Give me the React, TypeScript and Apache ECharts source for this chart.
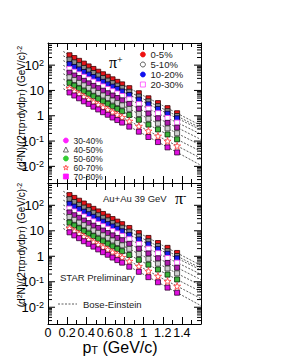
import React, { useEffect, useRef } from 'react';
import * as echarts from 'echarts';

// transverse momentum of the measured points (GeV/c)
const pT = [0.225, 0.275, 0.325, 0.375, 0.425, 0.475, 0.525, 0.575, 0.625, 0.675, 0.725, 0.775, 0.85, 0.95, 1.05, 1.15, 1.25, 1.35];
// pT of the points on the Bose-Einstein fit curves
const fitPT = [0.16, 0.3, 0.5, 0.8, 1.0, 1.2, 1.4, 1.6];
const centralities = ['0-5%', '5-10%', '10-20%', '20-30%', '30-40%', '40-50%', '50-60%', '60-70%', '70-80%'];
const xTickLabels = ['0', '0.2', '0.4', '0.6', '0.8', '1', '1.2', '1.4'];

// yields, in decades (log10 of the yield)
const pip_0_5 = [2.39, 2.28, 2.17, 2.06, 1.95, 1.85, 1.74, 1.64, 1.54, 1.44, 1.34, 1.24, 1.09, 0.89, 0.69, 0.50, 0.30, 0.10];
const pip_5_10 = [2.22, 2.11, 2.00, 1.89, 1.79, 1.69, 1.59, 1.49, 1.39, 1.29, 1.19, 1.10, 0.95, 0.76, 0.57, 0.38, 0.18, -0.01];
const pip_10_20 = [2.04, 1.93, 1.83, 1.73, 1.63, 1.53, 1.43, 1.34, 1.24, 1.15, 1.06, 0.96, 0.82, 0.64, 0.45, 0.27, 0.08, -0.10];
const pip_20_30 = [1.85, 1.74, 1.64, 1.54, 1.44, 1.35, 1.25, 1.16, 1.06, 0.97, 0.88, 0.78, 0.65, 0.46, 0.28, 0.10, -0.09, -0.27];
const pip_30_40 = [1.70, 1.59, 1.49, 1.38, 1.28, 1.18, 1.09, 0.99, 0.89, 0.80, 0.70, 0.61, 0.47, 0.28, 0.09, -0.10, -0.28, -0.47];
const pip_40_50 = [1.52, 1.41, 1.30, 1.20, 1.10, 0.99, 0.90, 0.80, 0.70, 0.60, 0.50, 0.41, 0.27, 0.07, -0.12, -0.31, -0.50, -0.69];
const pip_50_60 = [1.30, 1.19, 1.08, 0.97, 0.87, 0.77, 0.67, 0.57, 0.47, 0.37, 0.27, 0.18, 0.03, -0.16, -0.35, -0.54, -0.74, -0.93];
const pip_60_70 = [1.08, 0.97, 0.86, 0.75, 0.64, 0.54, 0.44, 0.34, 0.24, 0.14, 0.04, -0.06, -0.21, -0.41, -0.60, -0.80, -1.00, -1.19];
const pip_70_80 = [0.92, 0.80, 0.69, 0.57, 0.47, 0.36, 0.25, 0.14, 0.04, -0.07, -0.17, -0.27, -0.43, -0.63, -0.84, -1.04, -1.25, -1.45];

const pim_0_5 = [2.40, 2.29, 2.18, 2.07, 1.96, 1.86, 1.76, 1.66, 1.56, 1.46, 1.36, 1.26, 1.11, 0.91, 0.72, 0.52, 0.33, 0.13];
const pim_5_10 = [2.24, 2.13, 2.02, 1.91, 1.81, 1.71, 1.61, 1.51, 1.41, 1.31, 1.21, 1.12, 0.97, 0.78, 0.59, 0.40, 0.20, 0.01];
const pim_10_20 = [2.06, 1.95, 1.85, 1.75, 1.65, 1.55, 1.45, 1.36, 1.26, 1.17, 1.08, 0.98, 0.84, 0.66, 0.47, 0.29, 0.10, -0.08];
const pim_20_30 = [1.87, 1.76, 1.66, 1.56, 1.46, 1.37, 1.27, 1.18, 1.08, 0.99, 0.90, 0.80, 0.67, 0.48, 0.30, 0.12, -0.07, -0.25];
const pim_30_40 = [1.72, 1.61, 1.51, 1.40, 1.30, 1.20, 1.11, 1.01, 0.91, 0.82, 0.72, 0.63, 0.49, 0.30, 0.11, -0.08, -0.26, -0.45];
const pim_40_50 = [1.54, 1.43, 1.32, 1.22, 1.12, 1.01, 0.92, 0.82, 0.72, 0.62, 0.52, 0.43, 0.29, 0.09, -0.10, -0.29, -0.48, -0.67];
const pim_50_60 = [1.32, 1.21, 1.10, 0.99, 0.89, 0.79, 0.69, 0.59, 0.49, 0.39, 0.29, 0.20, 0.05, -0.14, -0.33, -0.52, -0.72, -0.91];
const pim_60_70 = [1.10, 0.99, 0.88, 0.77, 0.66, 0.56, 0.46, 0.36, 0.26, 0.16, 0.06, -0.04, -0.19, -0.39, -0.58, -0.78, -0.98, -1.17];
const pim_70_80 = [0.94, 0.82, 0.71, 0.59, 0.49, 0.38, 0.27, 0.16, 0.06, -0.05, -0.15, -0.25, -0.41, -0.61, -0.82, -1.02, -1.23, -1.43];

// Bose-Einstein fit curves (log10 of the yield at fitPT)
const pipFit_0_5 = [2.54, 2.22, 1.79, 1.19, 0.79, 0.40, 0.00, -0.39];
const pipFit_5_10 = [2.37, 2.05, 1.64, 1.05, 0.66, 0.28, -0.11, -0.49];
const pipFit_10_20 = [2.18, 1.88, 1.48, 0.92, 0.55, 0.18, -0.19, -0.56];
const pipFit_20_30 = [1.99, 1.69, 1.30, 0.74, 0.37, 0.00, -0.36, -0.73];
const pipFit_30_40 = [1.84, 1.54, 1.13, 0.56, 0.19, -0.19, -0.56, -0.94];
const pipFit_40_50 = [1.66, 1.36, 0.94, 0.36, -0.02, -0.40, -0.79, -1.17];
const pipFit_50_60 = [1.45, 1.13, 0.72, 0.13, -0.26, -0.64, -1.03, -1.41];
const pipFit_60_70 = [1.23, 0.91, 0.49, -0.11, -0.50, -0.90, -1.29, -1.68];
const pipFit_70_80 = [1.07, 0.74, 0.30, -0.32, -0.73, -1.14, -1.55, -1.96];

const pimFit_0_5 = [2.55, 2.23, 1.81, 1.21, 0.82, 0.42, 0.03, -0.36];
const pimFit_5_10 = [2.39, 2.07, 1.66, 1.07, 0.68, 0.30, -0.09, -0.47];
const pimFit_10_20 = [2.20, 1.90, 1.50, 0.94, 0.57, 0.20, -0.17, -0.54];
const pimFit_20_30 = [2.01, 1.71, 1.32, 0.76, 0.39, 0.02, -0.34, -0.71];
const pimFit_30_40 = [1.86, 1.56, 1.15, 0.58, 0.21, -0.17, -0.54, -0.92];
const pimFit_40_50 = [1.68, 1.38, 0.96, 0.38, 0.00, -0.38, -0.77, -1.15];
const pimFit_50_60 = [1.47, 1.15, 0.74, 0.15, -0.24, -0.62, -1.01, -1.39];
const pimFit_60_70 = [1.25, 0.93, 0.51, -0.09, -0.48, -0.88, -1.27, -1.66];
const pimFit_70_80 = [1.09, 0.76, 0.32, -0.30, -0.71, -1.12, -1.53, -1.94];

const panels = [
  {
    data: [pip_0_5, pip_5_10, pip_10_20, pip_20_30, pip_30_40, pip_40_50, pip_50_60, pip_60_70, pip_70_80],
    fits: [pipFit_0_5, pipFit_5_10, pipFit_10_20, pipFit_20_30, pipFit_30_40, pipFit_40_50, pipFit_50_60, pipFit_60_70, pipFit_70_80],
  },
  {
    data: [pim_0_5, pim_5_10, pim_10_20, pim_20_30, pim_30_40, pim_40_50, pim_50_60, pim_60_70, pim_70_80],
    fits: [pimFit_0_5, pimFit_5_10, pimFit_10_20, pimFit_20_30, pimFit_30_40, pimFit_40_50, pimFit_50_60, pimFit_60_70, pimFit_70_80],
  },
];

const STAR = 'path://M0,-10L2.35,-3.24L9.51,-3.09L3.8,1.24L5.88,8.09L0,4L-5.88,8.09L-3.8,1.24L-9.51,-3.09L-2.35,-3.24Z';
const FONT = '"Liberation Sans", Arial, sans-serif';
const SERIF = '"Liberation Serif", "Times New Roman", serif';

// marker style of each centrality
const markerFill = ['#e8141a', '#8c8c8c', '#1a1aee', '#ffffff', '#b01cb0', '#cfcfcf', '#3cb43c', '#ffffff', '#e010e0'];
const markerStroke = ['#3a0000', '#111111', '#00002a', '#ff44ff', '#200020', '#333333', '#002000', '#ff3030', '#300030'];
const markerSymbol = ['rect', 'rect', 'rect', 'rect', 'rect', 'rect', 'rect', STAR, 'rect'];
const legendIcon = ['circle', 'circle', 'circle', 'rect', 'circle', 'triangle', 'circle', STAR, 'rect'];
const legendFill = ['#ee1111', '#ffffff', '#1111ee', '#ffffff', '#ff22ff', '#ffffff', '#33cc33', '#ffffff', '#ff11ff'];
const legendStroke = ['#ee1111', '#333333', '#1111ee', '#ff44ff', '#ff22ff', '#444444', '#33cc33', '#ff3030', '#ff11ff'];

const X_MAX = 1.6;
const Y_MIN = 0.0022;
const Y_MAX = 750;

export default function App() {
  const ref = useRef<HTMLDivElement>(null);
  useEffect(() => {
    const chart = echarts.init(ref.current!, null, { renderer: 'svg' });

    const yLabel = (v: number) => {
      const l = Math.log10(v);
      const e = Math.round(l);
      if (Math.abs(l - e) > 1e-6) return '';
      if (e === 0) return '{b|1}';
      if (e === 1) return '{b|10}';
      return `{b|10}{s|${e}}`;
    };
    const yRich = {
      b: { fontSize: 13, fontFamily: FONT, color: '#000', lineHeight: 13, padding: [3, 0, 3, 0] },
      s: { fontSize: 9, fontFamily: FONT, color: '#000', lineHeight: 9, verticalAlign: 'top' },
    };

    const grids = [
      { left: 48, top: 43, width: 153, height: 140 },
      { left: 48, top: 183, width: 153, height: 141 },
    ];

    const xAxes: any[] = [];
    const yAxes: any[] = [];
    grids.forEach((_, g) => {
      ['bottom', 'top'].forEach((pos) => {
        xAxes.push({
          type: 'value', gridIndex: g, position: pos, min: 0, max: X_MAX, interval: 0.2,
          axisLine: { show: true, onZero: false, lineStyle: { color: '#000', width: 1 } },
          axisTick: { show: true, inside: true, length: 7, lineStyle: { color: '#000' } },
          minorTick: { show: true, splitNumber: 2, length: 4, lineStyle: { color: '#000' } },
          splitLine: { show: false },
          axisLabel: {
            show: g === 1 && pos === 'bottom', margin: 2, fontSize: 12.5, lineHeight: 13, fontFamily: FONT, color: '#000',
            formatter: (v: number) => {
              const i = Math.round(v / 0.2);
              return Math.abs(v - i * 0.2) < 1e-6 && i < xTickLabels.length ? xTickLabels[i] : '';
            },
          },
        });
      });
      ['left', 'right'].forEach((pos) => {
        yAxes.push({
          type: 'log', logBase: 10, gridIndex: g, position: pos, min: Y_MIN, max: Y_MAX,
          axisLine: { show: true, onZero: false, lineStyle: { color: '#000', width: 1 } },
          axisTick: { show: false },
          splitLine: { show: false },
          axisLabel: {
            show: pos === 'left', margin: 4, formatter: yLabel, rich: yRich,
            showMinLabel: false, showMaxLabel: false,
          },
        });
      });
    });

    // log-axis tick marks (decades and 2..9 sub-divisions) on both vertical frame sides
    const tickVals: number[] = [];
    for (let k = -3; k <= 2; k++) {
      for (let m = 1; m <= 9; m++) {
        const v = m * Math.pow(10, k);
        if (v > Y_MIN && v < Y_MAX) tickVals.push(v);
      }
    }

    const series: any[] = [];
    panels.forEach((panel, g) => {
      panel.fits.forEach((fit, i) => {
        series.push({
          type: 'line', name: `fit ${g} ${centralities[i]}`, xAxisIndex: g * 2, yAxisIndex: g * 2,
          data: fitPT.map((x, j) => [x, Math.pow(10, fit[j])]),
          symbol: 'none', silent: true, z: 1,
          lineStyle: { color: '#333', width: 0.8, type: [2, 1.5] },
        });
      });
      panel.data.forEach((d, i) => {
        series.push({
          type: 'scatter', name: centralities[i], xAxisIndex: g * 2, yAxisIndex: g * 2,
          data: pT.map((x, j) => [x, Math.pow(10, d[j])]),
          symbol: markerSymbol[i], symbolSize: markerSymbol[i] === STAR ? 7 : 5, z: 3,
          itemStyle: { color: markerFill[i], borderColor: markerStroke[i], borderWidth: 0.8, opacity: 1 },
        });
      });
      series.push({
        type: 'custom', name: `ticks ${g}`, xAxisIndex: g * 2, yAxisIndex: g * 2, silent: true, z: 5,
        data: tickVals.map((v) => [0, v]),
        renderItem: (_p: any, api: any) => {
          const v = api.value(1);
          const l = Math.log10(v);
          const major = Math.abs(l - Math.round(l)) < 1e-6;
          const len = major ? 7 : 4;
          const a = api.coord([0, v]);
          const b = api.coord([X_MAX, v]);
          const st = { stroke: '#000', lineWidth: 1 };
          return {
            type: 'group',
            children: [
              { type: 'line', shape: { x1: a[0], y1: a[1], x2: a[0] + len, y2: a[1] }, style: st },
              { type: 'line', shape: { x1: b[0] - len, y1: b[1], x2: b[0], y2: b[1] }, style: st },
            ],
          };
        },
      });
    });

    const legendItem = (i: number) => ({
      name: centralities[i],
      icon: legendIcon[i],
      itemStyle: { color: legendFill[i], borderColor: legendStroke[i], borderWidth: 0.8 },
    });
    const legendText = { fontSize: 9.5, fontFamily: FONT, color: '#222' };

    const option: any = {
      animation: false,
      backgroundColor: '#fff',
      grid: grids,
      xAxis: xAxes,
      yAxis: yAxes,
      series,
      legend: [
        {
          left: 140, top: 49.5, orient: 'vertical', itemWidth: 5, itemHeight: 5, itemGap: 0,
          selectedMode: false, textStyle: { ...legendText, lineHeight: 8 }, padding: 0,
          data: [0, 1, 2, 3].map(legendItem),
        },
        {
          left: 63, top: 136, orient: 'vertical', itemWidth: 5, itemHeight: 5, itemGap: 0,
          selectedMode: false, textStyle: { ...legendText, fontSize: 8.5, lineHeight: 8 }, padding: 0,
          data: [4, 5, 6, 7, 8].map(legendItem),
        },
      ],
      graphic: [
        {
          type: 'text', x: 109, y: 62,
          style: {
            text: '{a|π}{s|+}', verticalAlign: 'middle',
            rich: {
              a: { fontSize: 16, fontFamily: SERIF, fill: '#000', lineHeight: 16, padding: [3, 0, 3, 0] },
              s: { fontSize: 10, fontFamily: SERIF, fill: '#000', lineHeight: 10, verticalAlign: 'top' },
            },
          },
        },
        {
          type: 'text', x: 175, y: 198,
          style: {
            text: '{a|π}{s|-}', verticalAlign: 'middle',
            rich: {
              a: { fontSize: 16, fontFamily: SERIF, fill: '#000', lineHeight: 16, padding: [3, 0, 3, 0] },
              s: { fontSize: 10, fontFamily: SERIF, fill: '#000', lineHeight: 10, verticalAlign: 'top' },
            },
          },
        },
        {
          type: 'text', x: 103, y: 198,
          style: { text: 'Au+Au 39 GeV', fontSize: 9.5, fontFamily: FONT, fill: '#222', verticalAlign: 'middle' },
        },
        {
          type: 'text', x: 60, y: 277,
          style: { text: 'STAR Preliminary', fontSize: 9.5, fontFamily: FONT, fill: '#222', verticalAlign: 'middle' },
        },
        {
          type: 'line', shape: { x1: 58, y1: 304, x2: 77, y2: 304 },
          style: { stroke: '#333', lineWidth: 0.8, lineDash: [2, 1.5] },
        },
        {
          type: 'text', x: 83, y: 304,
          style: { text: 'Bose-Einstein', fontSize: 9.5, fontFamily: FONT, fill: '#222', verticalAlign: 'middle' },
        },
        {
          type: 'text', x: 120, y: 339,
          style: {
            text: '{a|p}{t|T}{a| (GeV/c)}', align: 'center', verticalAlign: 'top',
            rich: {
              a: { fontSize: 16, fontFamily: FONT, fill: '#000', lineHeight: 16, verticalAlign: 'top' },
              t: { fontSize: 11, fontFamily: FONT, fill: '#000', lineHeight: 11, padding: [7, 0, 0, 0], verticalAlign: 'bottom' },
            },
          },
        },
        ...[108, 245].map((cy) => ({
          type: 'text', x: 21, y: cy, rotation: Math.PI / 2,
          style: {
            text: '{a|(d}{s|2}{a|N)/(2πp}{t|T}{a|dydp}{t|T}{a|) (GeV/c)}{s|-2}',
            align: 'center', verticalAlign: 'middle',
            rich: {
              a: { fontSize: 10, fontFamily: FONT, fill: '#000', lineHeight: 10, padding: [2, 0, 2, 0] },
              s: { fontSize: 7, fontFamily: FONT, fill: '#000', lineHeight: 7, verticalAlign: 'top' },
              t: { fontSize: 7, fontFamily: FONT, fill: '#000', lineHeight: 7, verticalAlign: 'bottom' },
            },
          },
        })),
      ],
    };

    chart.setOption(option);
    return () => chart.dispose();
  }, []);

  return <div ref={ref} style={{ position: 'fixed', left: 0, top: 0, width: 281, height: 363 }} />;
}
